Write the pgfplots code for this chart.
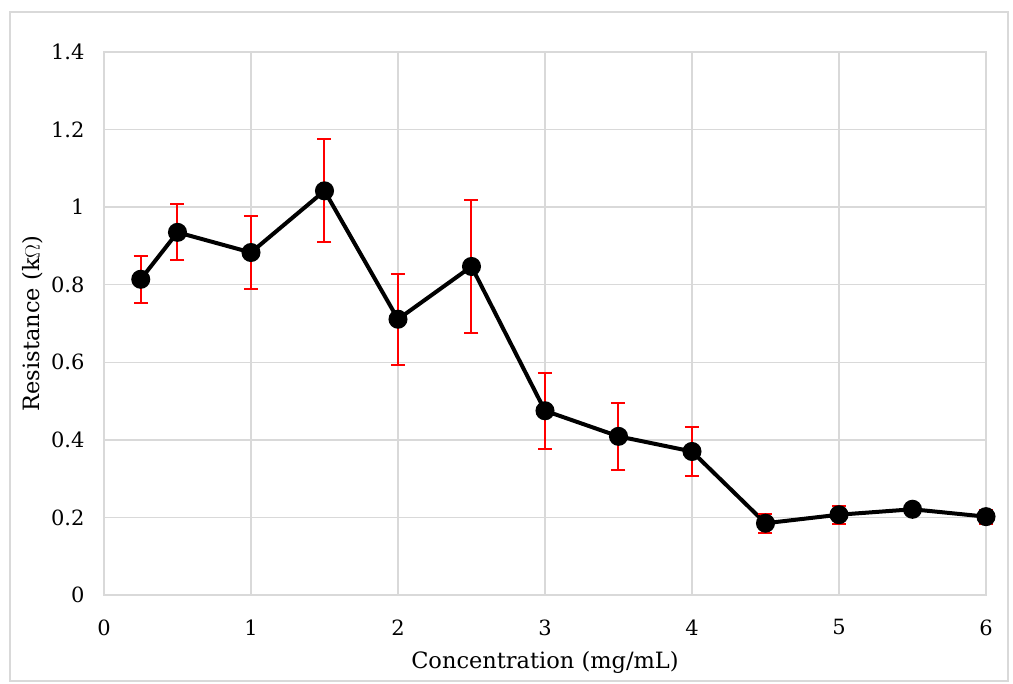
\documentclass[border=0pt]{standalone}
\usepackage{fontspec}
\setmainfont{DejaVu Serif}
\usepackage{pgfplots}
\pgfplotsset{compat=1.18}
\definecolor{gridgray}{HTML}{D9D9D9}
\definecolor{framegray}{HTML}{D9D9D9}
\definecolor{errred}{HTML}{FF0000}
\begin{document}
\begin{tikzpicture}[x=1pt,y=1pt]
\path[use as bounding box] (-104,-89) rectangle (909,595);
\draw[framegray, line width=1.2pt] (-94,-86) rectangle (904,583);
\begin{axis}[
  at={(0,0)}, anchor=south west,
  scale only axis, width=882pt, height=543pt,
  xmin=0, xmax=6, ymin=0, ymax=1.4,
  xtick={0,1,2,3,4,5,6},
  ytick={0,0.2,0.4,0.6,0.8,1,1.2,1.4},
  yticklabels={0,0.2,0.4,0.6,0.8,1,1.2,1.4},
  xticklabels={0,1,2,3,4,5,6},
  grid=major,
  major grid style={gridgray, line width=1.5pt},
  axis line style={gridgray, line width=1.5pt},
  tick style={draw=none},
  ticklabel style={font=\fontsize{21}{24}\selectfont},
  xticklabel style={yshift=-21pt},
  yticklabel style={xshift=-16pt},
  xlabel={Concentration (mg/mL)},
  ylabel={Resistance (k$\Omega$)},
  label style={font=\fontsize{22.5}{26}\selectfont},
  xlabel style={yshift=-9pt},
  ylabel style={yshift=1pt},
  /pgf/number format/assume math mode=true,
  clip=false,
]
\addplot[
  black, line width=4pt,
  mark=*, mark size=7.5pt, mark options={black, solid},
  error bars/.cd,
    y dir=both, y explicit,
    error bar style={errred, line width=2pt},
    error mark options={errred, line width=2pt, mark size=7pt, rotate=90},
] coordinates {
  (0.25,0.814) +- (0,0.060)
  (0.5,0.935) +- (0,0.072)
  (1,0.883) +- (0,0.093)
  (1.5,1.042) +- (0,0.133)
  (2,0.711) +- (0,0.117)
  (2.5,0.847) +- (0,0.172)
  (3,0.475) +- (0,0.098)
  (3.5,0.409) +- (0,0.086)
  (4,0.370) +- (0,0.064)
  (4.5,0.185) +- (0,0.025)
  (5,0.207) +- (0,0.023)
  (5.5,0.221) +- (0,0.005)
  (6,0.202) +- (0,0.018)
};
\end{axis}
\end{tikzpicture}
\end{document}
